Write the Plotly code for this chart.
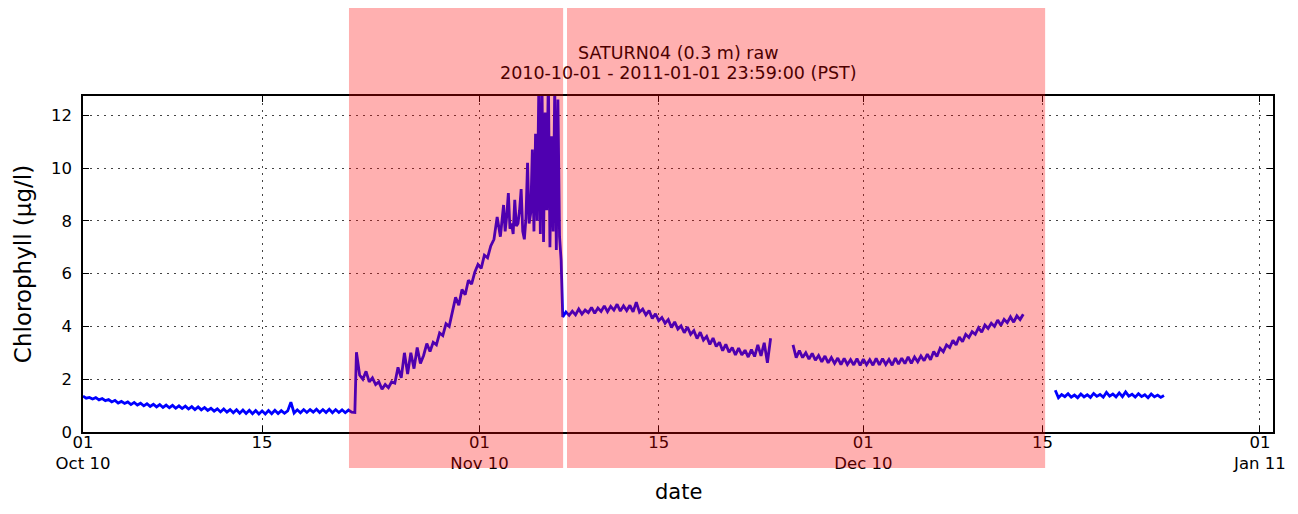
import pandas as pd
import plotly.graph_objects as go

# ---- data: chlorophyll readings, segments sampled at regular intervals ----
seg1_start, seg1_step_h = "2010-10-01 00:00", 6
seg1_values = [
    1.36, 1.28, 1.31, 1.25, 1.30, 1.22, 1.27, 1.19,
    1.23, 1.14, 1.20, 1.10, 1.16, 1.08, 1.14, 1.04,
    1.12, 1.02, 1.09, 0.99, 1.07, 0.97, 1.05, 0.95,
    1.04, 0.93, 1.02, 0.92, 1.01, 0.90, 0.99, 0.89,
    0.98, 0.87, 0.96, 0.85, 0.95, 0.84, 0.93, 0.82,
    0.90, 0.79, 0.88, 0.76, 0.87, 0.75, 0.85, 0.73,
    0.84, 0.71, 0.83, 0.70, 0.82, 0.69, 0.81, 0.68,
    0.80, 0.68, 0.81, 0.69, 0.82, 0.70, 0.81, 0.71,
    0.80, 1.13, 0.72, 0.84, 0.73, 0.85, 0.74, 0.85,
    0.75, 0.86, 0.74, 0.85, 0.74, 0.86, 0.73, 0.85,
    0.74, 0.84, 0.73, 0.83, 0.75, 0.74,
]

seg2_start, seg2_step_h = "2010-10-22 09:00", 6
seg2_values = [
    3.02, 2.15, 2.00, 2.30, 1.90, 2.05, 1.80, 1.90,
    1.62, 1.80, 1.68, 1.90, 1.85, 2.45, 2.05, 3.00,
    2.20, 3.00, 2.40, 3.20, 2.60, 2.90, 3.35, 3.05,
    3.40, 3.30, 3.75, 3.65, 4.10, 4.00, 4.55, 5.10,
    4.80, 5.40, 5.20, 5.75, 5.60, 6.05, 6.35, 6.20,
    6.70, 6.60, 7.05, 7.30, 8.15, 7.40, 8.60,
]

seg3_start, seg3_step_h = "2010-11-03 00:00", 3
seg3_values = [
    7.6, 8.2, 9.05, 7.7, 7.9, 7.5, 8.8, 7.8,
    7.9, 8.4, 9.2, 7.6, 7.3, 8.1, 10.2, 7.9,
    8.3, 10.7, 7.6, 11.3, 8.0, 12.9, 7.5, 13.4,
    7.2, 12.1, 8.4, 13.6, 7.0, 11.2, 7.6, 13.1,
    6.9, 12.6, 7.4, 6.5,
]

seg4_start, seg4_step_h = "2010-11-07 12:00", 6
seg4_values = [
    4.36, 4.55, 4.42, 4.58, 4.44, 4.66, 4.47, 4.62,
    4.52, 4.72, 4.50, 4.70, 4.57, 4.78, 4.56, 4.76,
    4.62, 4.84, 4.58, 4.78, 4.60, 4.80, 4.55, 4.92,
    4.54, 4.66, 4.44, 4.60, 4.30, 4.48, 4.22, 4.34,
    4.12, 4.26, 3.96, 4.17, 3.90, 4.02, 3.76, 3.98,
    3.70, 3.84, 3.54, 3.78, 3.48, 3.62, 3.32, 3.56,
    3.24, 3.40, 3.08, 3.32, 3.02, 3.20, 2.92, 3.18,
    2.92, 3.10, 2.84, 3.12, 2.86, 3.30, 2.88, 3.38,
    2.62, 3.55,
]

seg5_start, seg5_step_h = "2010-11-25 12:00", 6
seg5_values = [
    3.30, 2.82, 3.08, 2.82, 3.00, 2.76, 2.98, 2.72,
    2.90, 2.66, 2.88, 2.62, 2.82, 2.60, 2.80, 2.55,
    2.79, 2.56, 2.74, 2.54, 2.78, 2.52, 2.76, 2.55,
    2.74, 2.53, 2.79, 2.54, 2.78, 2.56, 2.75, 2.53,
    2.80, 2.57, 2.80, 2.59, 2.85, 2.60, 2.84, 2.66,
    2.88, 2.70, 2.95, 2.74, 3.05, 2.86, 3.17, 3.04,
    3.30, 3.20, 3.47, 3.30, 3.60, 3.42, 3.70, 3.58,
    3.80, 3.70, 3.95, 3.78, 4.05, 3.92, 4.12, 4.00,
    4.24, 4.04, 4.27, 4.14, 4.36, 4.16, 4.40, 4.26,
    4.46,
]

seg6_start, seg6_step_h = "2010-12-16 00:00", 6
seg6_values = [
    1.58, 1.30, 1.42, 1.34, 1.45, 1.32, 1.40, 1.30,
    1.44, 1.33, 1.41, 1.31, 1.46, 1.35, 1.42, 1.32,
    1.50, 1.36, 1.44, 1.33, 1.48, 1.34, 1.52, 1.36,
    1.43, 1.32, 1.45, 1.34, 1.41, 1.30, 1.44, 1.33,
    1.40, 1.31, 1.38,
]

# highlighted periods
shade_starts = ["2010-10-21 19:00", "2010-11-07 20:00"]
shade_ends = ["2010-11-07 12:45", "2010-12-15 05:00"]

tick_vals = ["2010-10-01", "2010-10-15", "2010-11-01", "2010-11-15",
             "2010-12-01", "2010-12-15", "2011-01-01"]
tick_text = ["01<br>Oct 10", "15", "01<br>Nov 10", "15",
             "01<br>Dec 10", "15", "01<br>Jan 11"]
y_ticks = [0, 2, 4, 6, 8, 10, 12]

title_line1 = "SATURN04 (0.3 m) raw"
title_line2 = "2010-10-01 - 2011-01-01 23:59:00 (PST)"
x_label = "date"
y_label = "Chlorophyll (μg/l)"

# ---- assemble series (None marks data gaps) ----
segments = [
    (seg1_start, seg1_step_h, seg1_values, False),
    (seg2_start, seg2_step_h, seg2_values, False),
    (seg3_start, seg3_step_h, seg3_values, False),
    (seg4_start, seg4_step_h, seg4_values, True),
    (seg5_start, seg5_step_h, seg5_values, True),
    (seg6_start, seg6_step_h, seg6_values, False),
]
xs, ys = [], []
for start, step, vals, gap_after in segments:
    times = pd.date_range(start=start, periods=len(vals), freq=f"{step}h")
    xs.extend(list(times))
    ys.extend(vals)
    if gap_after:
        xs.append(None)
        ys.append(None)

FONT = "DejaVu Sans"

fig = go.Figure()
fig.add_trace(go.Scatter(
    x=xs, y=ys, mode="lines",
    line=dict(color="#0000FF", width=2.8),
    connectgaps=False, showlegend=False, hoverinfo="skip",
))

for s, e in zip(shade_starts, shade_ends):
    fig.add_shape(type="rect", xref="x", yref="paper",
                  x0=s, x1=e, y0=-0.107, y1=1.272,
                  fillcolor="rgba(255,0,0,0.31)", line=dict(width=0),
                  layer="above")

for txt, yy in [(title_line1, 1.128), (title_line2, 1.068)]:
    fig.add_annotation(text=txt, xref="paper", yref="paper", x=0.5, y=yy,
                       xanchor="center", yanchor="middle", showarrow=False,
                       font=dict(family=FONT, size=17.5, color="#4d0000"))

# x-axis label, sitting on the bottom edge of the figure
fig.add_annotation(text=x_label, xref="paper", yref="paper", x=0.5, y=-0.218,
                   xanchor="center", yanchor="bottom", showarrow=False,
                   borderpad=0,
                   font=dict(family=FONT, size=21, color="black"))

fig.update_layout(
    width=1282, height=498,
    margin=dict(l=75, r=17, t=88, b=74, autoexpand=False),
    paper_bgcolor="white", plot_bgcolor="white",
    font=dict(family=FONT, color="black", size=16),
)

axis_common = dict(
    showline=True, linecolor="black", linewidth=1.5, mirror="allticks",
    ticks="inside", ticklen=6, tickwidth=1, tickcolor="black",
    showgrid=True, gridcolor="#444444", gridwidth=1, griddash="2px,5px",
    zeroline=False, automargin=False,
    tickfont=dict(family=FONT, size=16.5, color="black"),
)

fig.update_xaxes(
    range=["2010-10-01", "2011-01-02 00:30"],
    tickmode="array", tickvals=tick_vals, ticktext=tick_text,
    ticklabelstandoff=-6,
    **axis_common,
)
fig.update_yaxes(
    range=[0, 12.73], tickmode="array", tickvals=y_ticks,
    ticklabelstandoff=6,
    title=dict(text=y_label, font=dict(family=FONT, size=23), standoff=13),
    **axis_common,
)

fig.write_html("out.html")
